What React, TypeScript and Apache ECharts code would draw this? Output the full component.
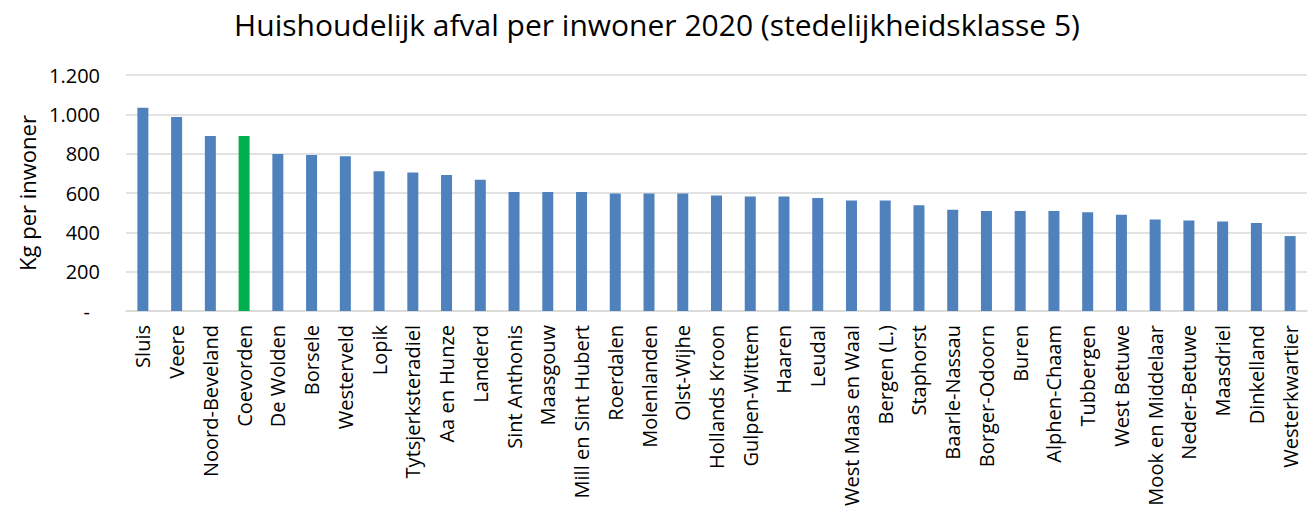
import React, { useEffect, useRef } from "react";
import * as echarts from "echarts";

const categories = [
  "Sluis", "Veere", "Noord-Beveland", "Coevorden", "De Wolden", "Borsele", "Westerveld",
  "Lopik", "Tytsjerksteradiel", "Aa en Hunze", "Landerd", "Sint Anthonis", "Maasgouw",
  "Mill en Sint Hubert", "Roerdalen", "Molenlanden", "Olst-Wijhe", "Hollands Kroon",
  "Gulpen-Wittem", "Haaren", "Leudal", "West Maas en Waal", "Bergen (L.)", "Staphorst",
  "Baarle-Nassau", "Borger-Odoorn", "Buren", "Alphen-Chaam", "Tubbergen", "West Betuwe",
  "Mook en Middelaar", "Neder-Betuwe", "Maasdriel", "Dinkelland", "Westerkwartier",
];

const values = [
  1033, 987, 890, 890, 798, 793, 787, 710, 704, 692, 668, 605, 605, 605, 598, 598, 598,
  587, 582, 582, 575, 562, 562, 538, 515, 508, 508, 508, 502, 490, 465, 460, 455, 448, 381,
];

const highlighted = "Coevorden";

const FONT = "'Open Sans', 'Noto Sans', sans-serif";

function fmt(v: number): string {
  if (v === 0) return "{d|-}";
  return String(v).replace(/\B(?=(\d{3})+(?!\d))/g, ".");
}

export default function App() {
  const ref = useRef<HTMLDivElement>(null);
  useEffect(() => {
    document.body.style.margin = "0";
    if (!ref.current) return;
    const chart = echarts.init(ref.current, null, { renderer: "svg" });
    chart.setOption({
      animation: false,
      backgroundColor: "#ffffff",
      title: {
        text: "Huishoudelijk afval per inwoner 2020 (stedelijkheidsklasse 5)",
        left: "center",
        top: 4,
        textStyle: { fontFamily: FONT, fontSize: 30, fontWeight: "normal", color: "#000" },
      },
      grid: { left: 126, right: 7, top: 75, bottom: 200, containLabel: false },
      xAxis: {
        type: "category",
        data: categories,
        axisTick: { show: false },
        axisLine: { lineStyle: { color: "#d9d9d9", width: 1.5 } },
        axisLabel: {
          rotate: 90,
          interval: 0,
          margin: 14,
          fontFamily: FONT,
          fontSize: 20,
          color: "#000",
        },
      },
      yAxis: {
        type: "value",
        min: 0,
        max: 1200,
        interval: 200,
        name: "Kg per inwoner",
        nameLocation: "middle",
        nameGap: 84,
        nameRotate: 90,
        nameTextStyle: { fontFamily: FONT, fontSize: 22, color: "#000" },
        axisLine: { show: false },
        axisTick: { show: false },
        splitLine: { lineStyle: { color: "#d9d9d9", width: 1.5 } },
        axisLabel: {
          margin: 26,
          fontFamily: FONT,
          fontSize: 20,
          color: "#000",
          formatter: (v: number) => fmt(v),
          rich: {
            d: { fontFamily: FONT, fontSize: 20, color: "#000", padding: [0, 10, 0, 0] },
          },
        },
      },
      series: [
        {
          type: "bar",
          barWidth: 11,
          data: values.map((v, i) => ({
            value: v,
            itemStyle: { color: categories[i] === highlighted ? "#00B050" : "#4F81BD" },
          })),
        },
      ],
    });
    return () => chart.dispose();
  }, []);
  return <div ref={ref} style={{ width: 1314, height: 511 }} />;
}
